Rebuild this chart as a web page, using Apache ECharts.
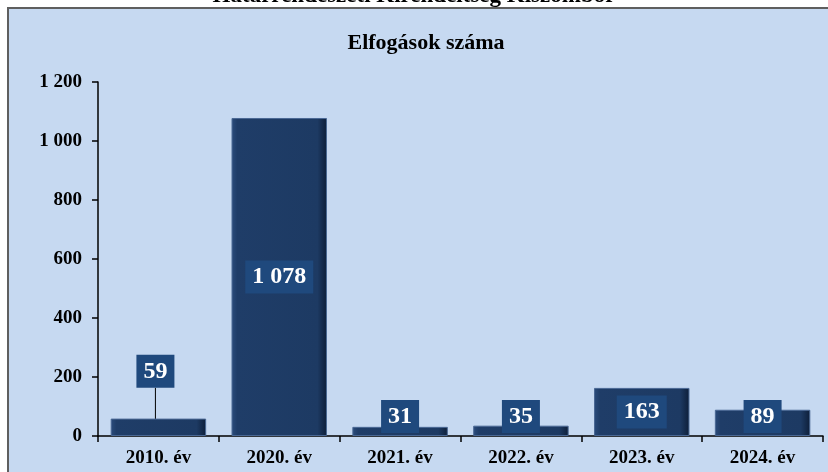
<!DOCTYPE html>
<html>
<head>
<meta charset="utf-8">
<script src="https://cdn.jsdelivr.net/npm/echarts@6/dist/echarts.min.js"></script>
<style>
  html, body { margin: 0; padding: 0; background: #fff; }
  #main { width: 828px; height: 472px; }
</style>
</head>
<body>
<div id="main"></div>
<script>
// adatok
const categories = ['2010. év', '2020. év', '2021. év', '2022. év', '2023. év', '2024. év'];
const arrests = [59, 1078, 31, 35, 163, 89];
const yTicks = [0, 200, 400, 600, 800, 1000, 1200];

const serif = '"Liberation Serif", "Times New Roman", serif';

// ezres tagolás szóközzel
function fmt(v) {
    return String(v).replace(/\B(?=(\d{3})+(?!\d))/g, ' ');
}

let chart = echarts.init(document.getElementById('main'));

chart.setOption({
    backgroundColor: '#ffffff',
    animation: false,
    graphic: [
        {
            type: 'rect',
            z: -10,
            shape: { x: 8, y: 8, width: 830, height: 470 },
            style: { fill: '#c6d9f1', stroke: '#5f5f5f', lineWidth: 2 }
        },
        {
            // levágott felső cím
            type: 'text',
            left: 'center',
            top: -15,
            z: -20,
            style: {
                text: 'Határrendészeti Kirendeltség Kiszombor',
                font: 'bold 23px ' + serif,
                fill: '#000'
            }
        }
    ],
    title: {
        text: 'Elfogások száma',
        left: 421,
        textAlign: 'center',
        top: 27,
        textStyle: { fontFamily: serif, fontWeight: 'bold', fontSize: 22, color: '#000' }
    },
    grid: {
        left: 98,
        right: 5,
        top: 82,
        bottom: 36
    },
    xAxis: {
        type: 'category',
        data: categories,
        axisLine: { lineStyle: { color: '#000', width: 1.5 } },
        axisTick: { show: true, length: 6, lineStyle: { color: '#000', width: 1.5 } },
        axisLabel: {
            fontFamily: serif, fontWeight: 'bold', fontSize: 19, color: '#000', margin: 13
        }
    },
    yAxis: {
        type: 'value',
        min: yTicks[0],
        max: yTicks[yTicks.length - 1],
        interval: 200,
        splitLine: { show: false },
        axisLine: { show: true, lineStyle: { color: '#000', width: 1.5 } },
        axisTick: { show: true, length: 6, lineStyle: { color: '#000', width: 1.5 } },
        axisLabel: {
            fontFamily: serif, fontWeight: 'bold', fontSize: 19, color: '#000', margin: 16,
            formatter: fmt
        }
    },
    series: [{
        type: 'bar',
        data: arrests,
        barWidth: '79%',
        itemStyle: {
            color: new echarts.graphic.LinearGradient(0, 0, 1, 0, [
                { offset: 0, color: '#2b4c7c' },
                { offset: 0.06, color: '#1f3d68' },
                { offset: 0.9, color: '#1d3a63' },
                { offset: 1, color: '#0d1e38' }
            ]),
            borderColor: '#4a6894',
            borderWidth: 1
        },
        label: {
            show: true,
            position: 'inside',
            formatter: p => fmt(p.value),
            fontFamily: serif,
            fontWeight: 'bold',
            fontSize: 24,
            lineHeight: 24,
            color: '#fff',
            backgroundColor: '#1f497d',
            padding: [5, 7, 4, 7]
        },
        labelLine: {
            show: true,
            lineStyle: { color: '#000', width: 1 }
        },
        labelLayout: function (p) {
            if (p.dataIndex === 0) {
                // Excelben kézzel felhúzott címke
                return { dy: -56, dx: -3 };
            }
            const bottom = p.rect.y + p.rect.height - 3;
            const lb = p.labelRect.y + p.labelRect.height;
            if (lb > bottom) return { dy: bottom - lb };
            return {};
        }
    }]
});
</script>
</body>
</html>
